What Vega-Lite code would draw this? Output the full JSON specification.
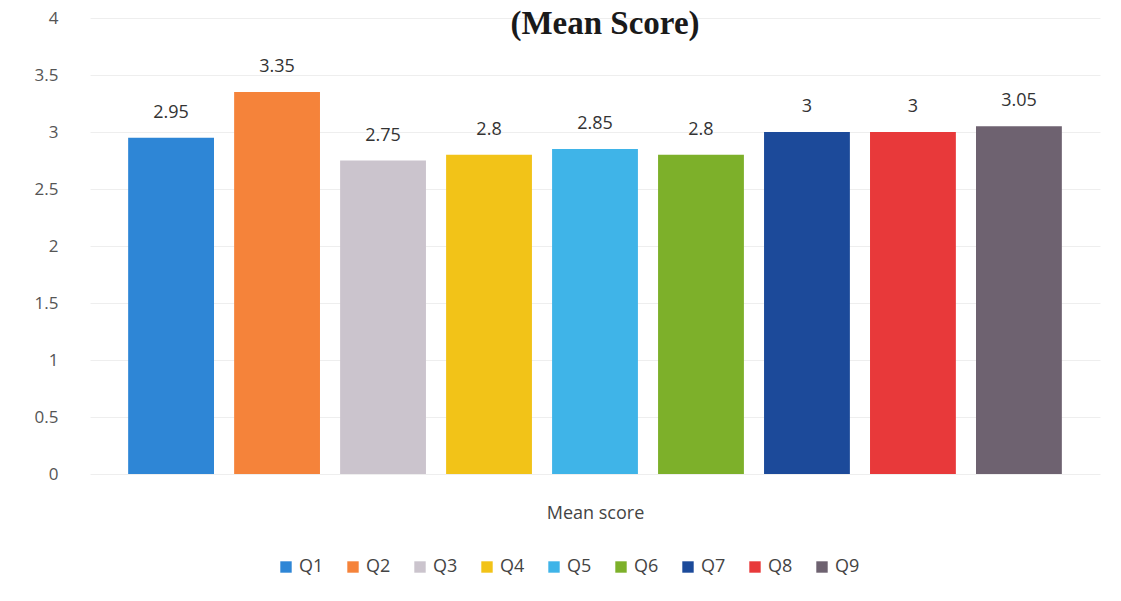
{
  "$schema": "https://vega.github.io/schema/vega-lite/v6.json",
  "width": 1010,
  "height": 456,
  "autosize": {"type": "none"},
  "padding": {"left": 90, "top": 18, "right": 21, "bottom": 127},
  "background": "white",
  "config": {"view": {"stroke": null}},
  "title": {
    "text": "(Mean Score)",
    "font": "Liberation Serif",
    "fontSize": 33,
    "fontWeight": "bold",
    "color": "#1a1a1a",
    "anchor": "middle",
    "baseline": "alphabetic",
    "offset": -4,
    "dy": 54,
    "dx": 10
  },
  "data": {
    "values": [
      {"q": "Q1", "score": 2.95},
      {"q": "Q2", "score": 3.35},
      {"q": "Q3", "score": 2.75},
      {"q": "Q4", "score": 2.8},
      {"q": "Q5", "score": 2.85},
      {"q": "Q6", "score": 2.8},
      {"q": "Q7", "score": 3},
      {"q": "Q8", "score": 3},
      {"q": "Q9", "score": 3.05}
    ]
  },
  "encoding": {
    "x": {
      "field": "q",
      "type": "nominal",
      "sort": null,
      "scale": {"paddingInner": 0.19, "paddingOuter": 0.36},
      "axis": {
        "title": "Mean score",
        "labels": false,
        "ticks": false,
        "domain": false,
        "titleFont": "Open Sans",
        "titleFontSize": 18,
        "titleFontWeight": "normal",
        "titleColor": "#444",
        "titlePadding": 30
      }
    },
    "y": {
      "field": "score",
      "type": "quantitative",
      "scale": {"domain": [0, 4]},
      "axis": {
        "title": null,
        "values": [0, 0.5, 1, 1.5, 2, 2.5, 3, 3.5, 4],
        "format": "~g",
        "domain": false,
        "ticks": false,
        "labelFont": "Open Sans",
        "labelFontSize": 17,
        "labelColor": "#555",
        "labelPadding": 32,
        "gridColor": "#eeeeee",
        "gridWidth": 1
      }
    }
  },
  "layer": [
    {
      "mark": {"type": "bar"},
      "encoding": {
        "color": {
          "field": "q",
          "type": "nominal",
          "sort": null,
          "scale": {
            "domain": ["Q1", "Q2", "Q3", "Q4", "Q5", "Q6", "Q7", "Q8", "Q9"],
            "range": ["#2E86D6", "#F5833A", "#CBC4CD", "#F2C318", "#3FB4E8", "#7DB02A", "#1C4A9A", "#E8393A", "#6E6270"]
          },
          "legend": {
            "title": null,
            "orient": "none",
            "legendX": 187,
            "legendY": 540,
            "direction": "horizontal",
            "columns": 9,
            "symbolType": "square",
            "symbolSize": 130,
            "symbolStrokeWidth": 0,
            "labelFont": "Open Sans",
            "labelFontSize": 18,
            "labelColor": "#444",
            "columnPadding": 20,
            "labelOffset": 4
          }
        }
      }
    },
    {
      "mark": {"type": "text", "baseline": "bottom", "dy": -16, "font": "Open Sans", "fontSize": 18, "color": "#333"},
      "encoding": {
        "text": {"field": "score", "type": "quantitative"}
      }
    }
  ]
}
